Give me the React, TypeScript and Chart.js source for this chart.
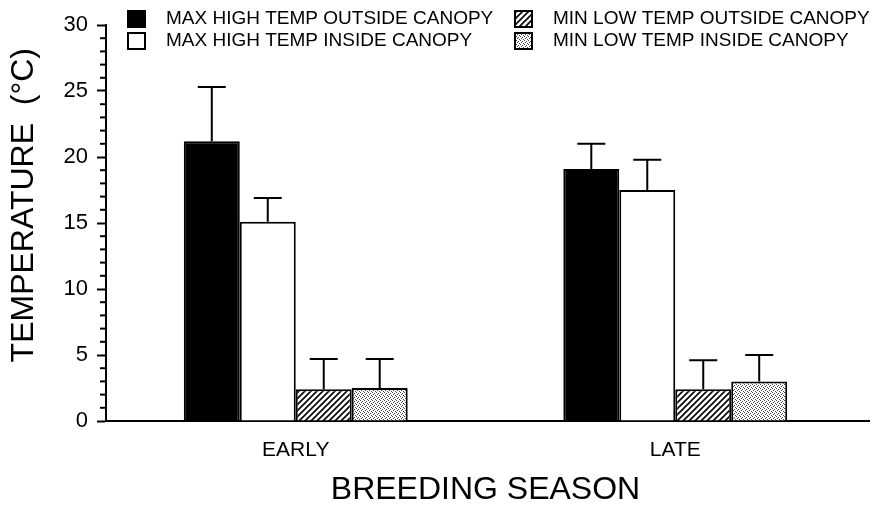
import React, { useEffect, useRef } from 'react';
import { Chart, registerables } from 'chart.js';

Chart.register(...registerables);

const categories = ['EARLY', 'LATE'];
const seriesLabels = [
  'MAX HIGH TEMP OUTSIDE CANOPY',
  'MAX HIGH TEMP INSIDE CANOPY',
  'MIN LOW TEMP OUTSIDE CANOPY',
  'MIN LOW TEMP INSIDE CANOPY',
];
const maxHighOutside = [21.2, 19.1];
const maxHighOutsideErr = [4.1, 1.9];
const maxHighInside = [15.1, 17.5];
const maxHighInsideErr = [1.8, 2.3];
const minLowOutside = [2.4, 2.4];
const minLowOutsideErr = [2.3, 2.2];
const minLowInside = [2.5, 3.0];
const minLowInsideErr = [2.2, 2.0];
const yMin = 0;
const yMax = 30;
const yStep = 5;
const yTitle = 'TEMPERATURE  (°C)';
const xTitle = 'BREEDING SEASON';

const SANS = "'Liberation Sans', Arial, sans-serif";

function makeHatch(): CanvasPattern | string {
  const c = document.createElement('canvas');
  c.width = 6;
  c.height = 6;
  const g = c.getContext('2d');
  if (!g) return '#888';
  g.fillStyle = '#fff';
  g.fillRect(0, 0, 6, 6);
  g.strokeStyle = '#000';
  g.lineWidth = 1.6;
  g.beginPath();
  g.moveTo(-1, 7);
  g.lineTo(7, -1);
  g.moveTo(-4, 4);
  g.lineTo(4, -4);
  g.moveTo(2, 10);
  g.lineTo(10, 2);
  g.stroke();
  return g.createPattern(c, 'repeat') || '#888';
}

function makeDots(): CanvasPattern | string {
  const c = document.createElement('canvas');
  c.width = 4;
  c.height = 4;
  const g = c.getContext('2d');
  if (!g) return '#ccc';
  g.fillStyle = '#fff';
  g.fillRect(0, 0, 4, 4);
  g.fillStyle = '#444';
  g.fillRect(0, 0, 1, 1);
  g.fillRect(2, 1, 1, 1);
  g.fillRect(1, 2, 1, 1);
  g.fillRect(3, 3, 1, 1);
  return g.createPattern(c, 'repeat') || '#ccc';
}

const errorBarPlugin = {
  id: 'errorBars',
  afterDatasetsDraw(chart: any) {
    const ctx = chart.ctx;
    const yScale = chart.scales.y;
    ctx.save();
    ctx.strokeStyle = '#000';
    ctx.lineWidth = 2;
    chart.data.datasets.forEach((ds: any, i: number) => {
      const meta = chart.getDatasetMeta(i);
      meta.data.forEach((bar: any, j: number) => {
        const v = ds.data[j];
        const e = ds.errors[j];
        const yTop = yScale.getPixelForValue(v + e);
        const yBar = yScale.getPixelForValue(v);
        ctx.beginPath();
        ctx.moveTo(bar.x, yBar);
        ctx.lineTo(bar.x, yTop);
        ctx.moveTo(bar.x - 14, yTop);
        ctx.lineTo(bar.x + 14, yTop);
        ctx.stroke();
      });
    });
    ctx.restore();
  },
};

const axisExtrasPlugin = {
  id: 'axisExtras',
  afterDraw(chart: any) {
    const ctx = chart.ctx;
    const y = chart.scales.y;
    const { left, right, bottom, top } = chart.chartArea;
    ctx.save();
    ctx.strokeStyle = '#000';
    ctx.lineWidth = 2;
    for (let v = yMin; v <= yMax; v += 1) {
      if (v % yStep === 0) continue;
      const py = y.getPixelForValue(v);
      ctx.beginPath();
      ctx.moveTo(left - 6, py);
      ctx.lineTo(left, py);
      ctx.stroke();
    }
    // extend x axis line slightly past the plot area
    ctx.beginPath();
    ctx.moveTo(right - 1, bottom);
    ctx.lineTo(right + 5, bottom);
    ctx.stroke();
    // y axis title, centred a little above the plot middle
    ctx.fillStyle = '#000';
    ctx.font = `32px ${SANS}`;
    ctx.textAlign = 'center';
    ctx.textBaseline = 'middle';
    ctx.translate(24, top + (bottom - top) * 0.455);
    ctx.rotate(-Math.PI / 2);
    ctx.fillText(yTitle, 0, 0);
    ctx.restore();
  },
};

const legendPlugin = {
  id: 'customLegend',
  afterDraw(chart: any) {
    const ctx = chart.ctx;
    const pos = [
      { bx: 128, by: 11, tx: 166, ty: 19 },
      { bx: 128, by: 33, tx: 166, ty: 41 },
      { bx: 515, by: 11, tx: 553, ty: 19 },
      { bx: 515, by: 33, tx: 553, ty: 41 },
    ];
    ctx.save();
    ctx.font = `19px ${SANS}`;
    ctx.textBaseline = 'middle';
    ctx.textAlign = 'left';
    chart.data.datasets.forEach((ds: any, i: number) => {
      const p = pos[i];
      ctx.fillStyle = ds.backgroundColor;
      ctx.fillRect(p.bx, p.by, 17, 16);
      ctx.strokeStyle = '#000';
      ctx.lineWidth = 2;
      ctx.strokeRect(p.bx, p.by, 17, 16);
      ctx.fillStyle = '#000';
      ctx.fillText(ds.label, p.tx, p.ty);
    });
    ctx.restore();
  },
};

export default function App() {
  const ref = useRef<HTMLCanvasElement | null>(null);

  useEffect(() => {
    if (!ref.current) return;
    const hatch = makeHatch();
    const dots = makeDots();
    const colors: any[] = ['#000', '#fff', hatch, dots];
    const values = [maxHighOutside, maxHighInside, minLowOutside, minLowInside];
    const errs = [maxHighOutsideErr, maxHighInsideErr, minLowOutsideErr, minLowInsideErr];
    const chart = new Chart(ref.current, {
      type: 'bar',
      data: {
        labels: categories,
        datasets: seriesLabels.map((label, i) => ({
          label,
          data: values[i],
          errors: errs[i],
          backgroundColor: colors[i],
          borderColor: '#000',
          borderWidth: 2,
          borderSkipped: 'bottom',
          barPercentage: 1,
          categoryPercentage: 0.59,
        })) as any,
      },
      options: {
        animation: false,
        responsive: false,
        maintainAspectRatio: false,
        devicePixelRatio: 1,
        layout: { padding: { left: 9, top: 25, right: 17, bottom: 0 } },
        plugins: {
          legend: { display: false },
          tooltip: { enabled: false },
        },
        scales: {
          x: {
            grid: { display: false },
            border: { display: true, color: '#000', width: 2 },
            ticks: { color: '#000', font: { family: SANS, size: 21 }, padding: 9 },
            title: {
              display: true,
              text: xTitle,
              color: '#000',
              font: { family: SANS, size: 32, lineHeight: 1 },
              padding: { top: 0, bottom: 0 },
            },
            afterFit: (s: any) => {
              s.height = 85;
            },
          },
          y: {
            min: yMin,
            max: yMax,
            ticks: { stepSize: yStep, color: '#000', font: { family: SANS, size: 22 }, padding: 9 },
            grid: { drawOnChartArea: false, tickLength: 9, tickWidth: 2, tickColor: '#000' },
            border: { display: true, color: '#000', width: 2 },
            title: { display: false },
            afterFit: (s: any) => {
              s.width = 97;
            },
          },
        },
      } as any,
      plugins: [errorBarPlugin, axisExtrasPlugin, legendPlugin],
    });
    return () => chart.destroy();
  }, []);

  return (
    <div style={{ position: 'fixed', left: 0, top: 0, width: 882, height: 506, background: '#fff' }}>
      <canvas ref={ref} width={882} height={506} style={{ display: 'block' }} />
    </div>
  );
}
